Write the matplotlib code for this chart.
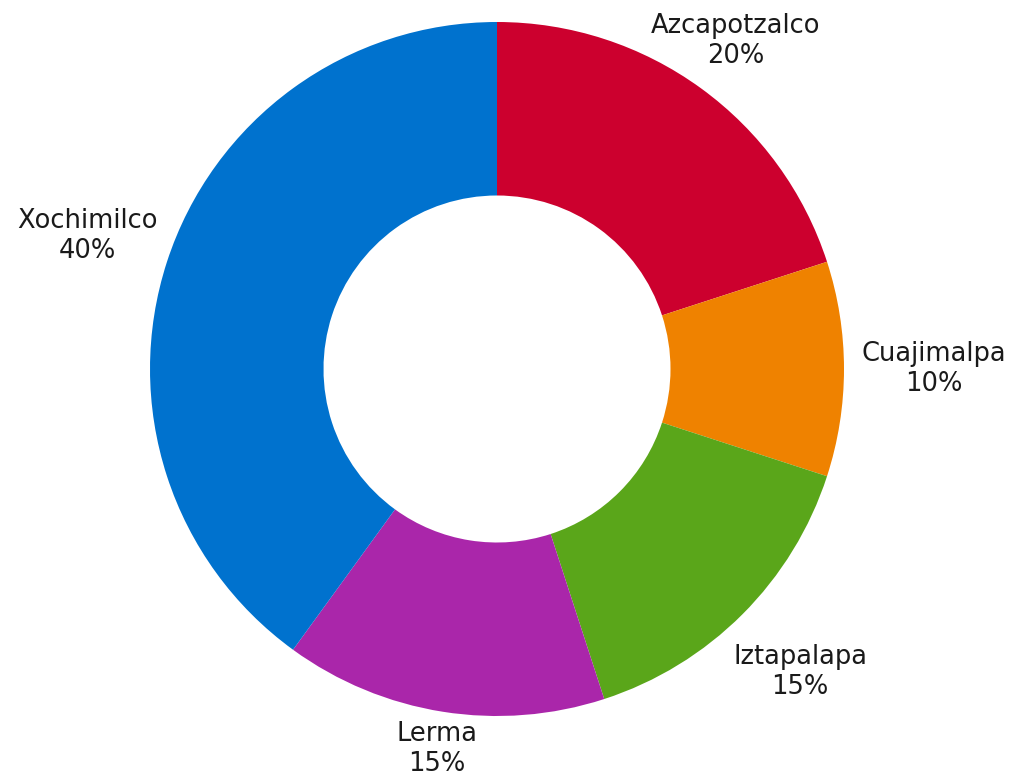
import matplotlib.pyplot as plt
import numpy as np

plt.rcParams['font.family'] = ['DejaVu Sans']

labels = ['Azcapotzalco', 'Cuajimalpa', 'Iztapalapa', 'Lerma', 'Xochimilco']
values = [20, 10, 15, 15, 40]
colors = ['#CC002E', '#EF8200', '#5AA61A', '#AA26AA', '#0072CE']
label_dist = [1.17, 1.26, 1.235, 1.11, 1.24]

fig = plt.figure(figsize=(10.14, 7.8), dpi=100)
ax = fig.add_axes([0, 0, 1, 1])

wedges, _ = ax.pie(values, colors=colors, startangle=90, counterclock=False,
                   radius=1.0, wedgeprops=dict(width=0.5, edgecolor='none'))

total = sum(values)
for w, lab, v, d in zip(wedges, labels, values, label_dist):
    mid = np.deg2rad((w.theta1 + w.theta2) / 2)
    x, y = d * np.cos(mid), d * np.sin(mid)
    ax.text(x, y, f'{lab}\n{v / total * 100:.0f}%', ha='center', va='center',
            fontsize=18.5, color='#1a1a1a', linespacing=1.2)

# center at (497, 369) px, radius 347 px
r = 347
ax.set_xlim(-497 / r, (1014 - 497) / r)
ax.set_ylim(-(780 - 369) / r, 369 / r)
ax.set_aspect('equal')
ax.axis('off')

fig.savefig('out.png', dpi=100)
